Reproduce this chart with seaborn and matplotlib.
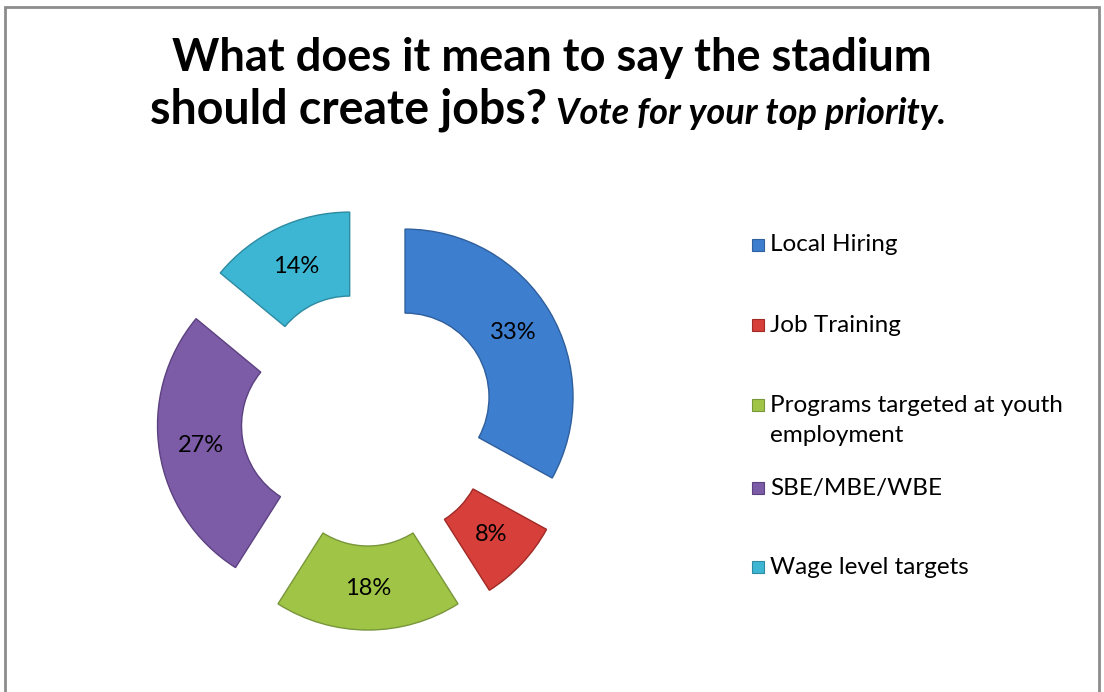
import matplotlib
matplotlib.use("Agg")
import matplotlib.pyplot as plt
import seaborn as sns

# Survey results: share of votes per priority
categories = ["Local Hiring", "Job Training", "Programs targeted at youth\nemployment",
              "SBE/MBE/WBE", "Wage level targets"]
shares = [33, 8, 18, 27, 14]
pct_labels = ["33%", "8%", "18%", "27%", "14%"]
colors = ["#3D7ECF", "#D63F3A", "#A0C546", "#7D5CA7", "#3DB6D3"]
edge_colors = ["#2F5F9C", "#A02A26", "#78963A", "#5C4180", "#2D8AA0"]

title_line1 = "What does it mean to say the stadium"
title_line2a = "should create jobs?"
title_line2b = "Vote for your top priority."

sns.set_theme(style="white")
plt.rcParams["font.family"] = ["Lato", "DejaVu Sans"]
plt.rcParams["text.color"] = "black"

W, H = 1104, 692
fig = plt.figure(figsize=(W / 100, H / 100), dpi=100)
fig.patch.set_facecolor("white")

# outer frame
frame = plt.Rectangle((4.5 / W, -0.01), (1099 - 4.5) / W, (H - 6.5) / H + 0.01,
                      transform=fig.transFigure, fill=False,
                      edgecolor="#8C8C8C", linewidth=2)
fig.patches.append(frame)

# donut axes: centre at (368, 419) px, outer radius 168 px
cx, cy, R = 368, 419, 168
half = 260
ax = fig.add_axes([(cx - half) / W, (H - cy - half) / H, 2 * half / W, 2 * half / H])
explode = [0.256] * len(shares)
wedges, texts, autotexts = ax.pie(
    shares, colors=colors, explode=explode, startangle=90, counterclock=False,
    radius=1.0, wedgeprops=dict(width=0.5, linewidth=1.0),
    autopct=lambda p: "", pctdistance=0.75,
)
for w, ec in zip(wedges, edge_colors):
    w.set_edgecolor(ec)
for t, lab in zip(autotexts, pct_labels):
    t.set_text(lab)
    t.set_fontsize(17)
    t.set_color("black")
lim = half / R
ax.set_xlim(-lim, lim)
ax.set_ylim(-lim, lim)
ax.set_aspect("equal")
ax.axis("off")

# legend: small square swatch followed by the category name
leg_rows = [245, 325, 405, 488, 567]
for lab, col, ec, y in zip(categories, colors, edge_colors, leg_rows):
    fig.patches.append(plt.Rectangle((752 / W, (H - y - 6) / H), 12 / W, 12 / H,
                                     transform=fig.transFigure, facecolor=col,
                                     edgecolor=ec, linewidth=0.8))
    for i, ln in enumerate(lab.split("\n")):
        fig.text(770 / W, (H - y - i * 31) / H, ln, fontsize=17.5,
                 va="center", ha="left", color="black")

# title
fig.text(552 / W, (H - 58) / H, title_line1, fontsize=32.5, fontweight="bold",
         ha="center", va="center", color="black")
renderer = fig.canvas.get_renderer()
ta = fig.text(0, (H - 110) / H, title_line2a, fontsize=33.5, fontweight="bold",
              ha="left", va="center", color="black")
tb = fig.text(0, (H - 114) / H, title_line2b, fontsize=26, fontweight="bold",
              fontstyle="italic", ha="left", va="center", color="black")
wa = ta.get_window_extent(renderer).width
wb = tb.get_window_extent(renderer).width
gap = 8
x0 = 548 - (wa + gap + wb) / 2
ta.set_x(x0 / W)
tb.set_x((x0 + wa + gap) / W)

fig.savefig("out.png", dpi=100, facecolor="white")
